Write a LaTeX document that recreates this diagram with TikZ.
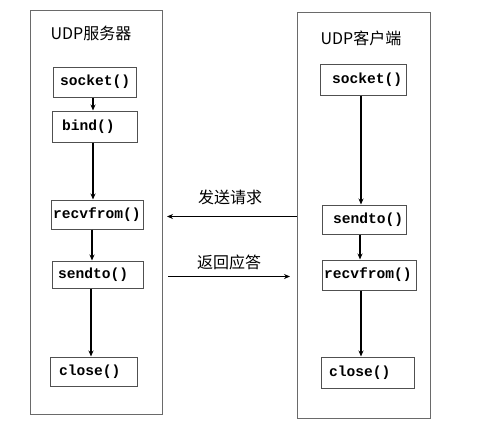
\documentclass[tikz,border=0pt]{standalone}
\usepackage{fontspec}
\setmonofont{Liberation Mono}
\newfontfamily\cjk{Noto Sans CJK SC}
\usetikzlibrary{arrows.meta}
\definecolor{boxgray}{HTML}{505050}
\definecolor{contgray}{HTML}{6A6A6A}
\tikzset{
  x=1pt, y=-1pt,
  container/.style={draw=contgray, line width=1pt, minimum width=#1, inner sep=0pt},
  fnbox/.style n args={3}{draw=boxgray, line width=1pt, minimum height=#1, inner ysep=0pt,
     inner xsep=#2, text width=#3, align=left, font=\fontsize{14.6}{16}\ttfamily\bfseries},
  ttl/.style={font=\fontsize{16}{18}\cjk, inner sep=0pt},
  flow/.style={line width=1.1pt, -{Stealth[length=6pt,width=5pt]}}
}
\begin{document}
\begin{tikzpicture}
\useasboundingbox (0,0) rectangle (500,434);
% containers
\node[container=132pt, minimum height=404pt] (lc) at (96,212) {};
\node[container=133pt, minimum height=406pt] (rc) at (363.5,215) {};
\node[ttl] (lt) at (91,33) {UDP服务器};
\node[ttl] (rt) at (361,38) {UDP客户端};
% left boxes
\node[fnbox={30pt}{7pt}{69pt}] (ls) at (94.5,82) {socket()};
\node[fnbox={31pt}{10pt}{65pt}] (lb) at (94.5,126.5) {bind()};
\node[fnbox={29pt}{2pt}{88pt}] (lr) at (97,214.5) {recvfrom()};
\node[fnbox={27pt}{6pt}{79pt}] (lsd) at (97.5,274.5) {sendto()};
\node[fnbox={29pt}{9pt}{69pt}] (lcl) at (93.5,371.5) {close()};
% right boxes
\node[fnbox={31pt}{12pt}{62pt}] (rs) at (363,79.5) {socket()};
\node[fnbox={29pt}{11pt}{62pt}] (rsd) at (364,219.5) {sendto()};
\node[fnbox={30pt}{2pt}{90pt}] (rr) at (369,275) {recvfrom()};
\node[fnbox={31pt}{8pt}{77pt}] (rcl) at (367.5,372.5) {close()};
% left flow
\draw[flow] ([xshift=-1.5pt]ls.south) -- ([xshift=-1.5pt]ls.south |- lb.north);
\draw[flow] ([xshift=-1.5pt]lb.south) -- ([xshift=-1.5pt]lb.south |- lr.north);
\draw[flow] ([xshift=-5pt]lr.south) -- ([xshift=-5pt]lr.south |- lsd.north);
\draw[flow] ([xshift=-6.5pt]lsd.south) -- ([xshift=-6.5pt]lsd.south |- lcl.north);
% right flow
\draw[flow] ([xshift=-2pt]rs.south) -- ([xshift=-2pt]rs.south |- rsd.north);
\draw[flow] ([xshift=-4pt]rsd.south) -- ([xshift=-4pt]rsd.south |- rr.north);
\draw[flow] ([xshift=-8pt]rr.south) -- ([xshift=-8pt]rr.south |- rcl.north);
% messages
\coordinate (reqend) at (167,216.5);
\coordinate (respstart) at (168,276.5);
\coordinate (respend) at (290,276.5);
\draw[flow] (rc.west |- reqend) -- (reqend);
\draw[flow] (respstart) -- (respend);
\node[ttl] (reqlbl) at (230,197) {发送请求};
\node[ttl] (resplbl) at (229,262) {返回应答};
\end{tikzpicture}
\end{document}
